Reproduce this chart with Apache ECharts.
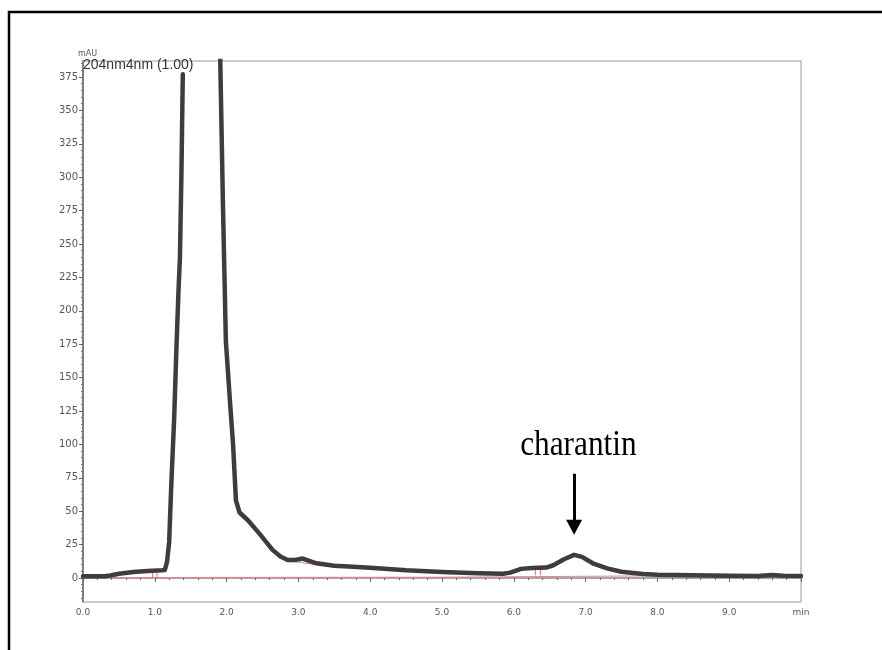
<!DOCTYPE html>
<html lang="en">

<head>
  <meta charset="UTF-8">
  <title>charantin HPLC</title>
  <style>
    html, body { margin: 0; padding: 0; background: #fff; }
    #main { width: 882px; height: 650px; }
  </style>
</head>

<body>
  <div id="main"></div>

  <script src="https://cdn.jsdelivr.net/npm/echarts@6/dist/echarts.min.js"></script>
  <script>
    // retention time (min) and signal (mAU); null = trace gap at top of the main peak
    var retentionTime = [0.0, 0.3, 0.38, 0.5, 0.7, 0.9, 1.1, 1.14, 1.17, 1.20, 1.23, 1.27, 1.30, 1.33, 1.35, 1.37, 1.39,
      1.65,
      1.91, 1.95, 1.99, 2.05, 2.09, 2.13, 2.18, 2.3, 2.46, 2.55, 2.64, 2.75, 2.85, 2.95, 3.06, 3.15, 3.25, 3.5,
      3.7, 4.0, 4.5, 5.0, 5.5, 5.85, 5.95, 6.1, 6.25, 6.45, 6.55, 6.7, 6.84, 6.95, 7.1, 7.3, 7.5, 7.8, 8.0,
      8.5, 9.0, 9.4, 9.6, 9.75, 10.0];
    var signal = [1.2, 1.2, 1.8, 3.2, 4.4, 5.2, 5.8, 6.0, 12, 27, 70, 120, 170, 215, 240, 300, 377,
      null,
      392, 277, 177, 130, 100, 58, 49, 43, 33, 27, 21, 16, 13.5, 13.5, 14.5, 12.8, 11, 9.2,
      8.6, 7.6, 5.7, 4.5, 3.6, 3.2, 4.0, 6.8, 7.5, 7.8, 9.5, 14, 17.3, 15.8, 11, 7.2, 4.6, 3.0, 2.4,
      2.0, 1.7, 1.5, 2.2, 1.6, 1.5];

    // integration baseline (red)
    var baselineTime = [0.35, 2.9, 5.0, 8.1];
    var baselineValue = [0.3, 0.5, 0.6, 1.6];
    var bumpBaseTime = [2.9, 3.25];
    var bumpBaseValue = [12.5, 10];

    // peak start/end marks
    var markTime = [0.97, 1.03, 6.30, 6.37];
    var markLow = [0.4, 0.4, 2.0, 2.0];
    var markHigh = [4.8, 4.8, 6.5, 6.5];

    // axis ticks
    var yMajorTicks = [0, 25, 50, 75, 100, 125, 150, 175, 200, 225, 250, 275, 300, 325, 350, 375];
    var yMinorTicks = [];
    for (var v = -15; v <= 385; v += 5) {
      if (v % 25 !== 0) yMinorTicks.push(v);
    }

    var peakName = 'charantin';
    var peakTime = 6.84;

    var traceData = retentionTime.map(function (t, i) {
      return signal[i] === null ? ['-', '-'] : [t, signal[i]];
    });
    var baseData = baselineTime.map(function (t, i) { return [t, baselineValue[i]]; });
    baseData.push(['-', '-']);
    bumpBaseTime.forEach(function (t, i) { baseData.push([t, bumpBaseValue[i]]); });
    var markData = [];
    markTime.forEach(function (t, i) {
      markData.push([t, markLow[i]], [t, markHigh[i]], ['-', '-']);
    });

    var myChart = echarts.init(document.getElementById('main'));

    var labelFont = { fontFamily: 'DejaVu Sans', color: '#555' };

    myChart.setOption({
      animation: false,
      title: {
        text: '204nm4nm (1.00)',
        left: 83,
        top: 58,
        padding: 0,
        textStyle: { fontFamily: 'Liberation Sans', fontSize: 14, fontWeight: 'normal', color: '#333' }
      },
      grid: {
        left: 83, right: 81, top: 61, bottom: 48,
        show: true, borderColor: '#999', borderWidth: 1, backgroundColor: 'transparent'
      },
      xAxis: {
        type: 'value',
        min: 0,
        max: 10,
        interval: 1,
        axisLine: { lineStyle: { color: '#888', width: 1.5 } },
        axisTick: { length: 4, lineStyle: { color: '#666' } },
        minorTick: { show: true, splitNumber: 5, length: 2, lineStyle: { color: '#666' } },
        splitLine: { show: false },
        axisLabel: Object.assign({
          fontSize: 9, margin: 6,
          formatter: function (val) { return val === 10 ? 'min' : val.toFixed(1); }
        }, labelFont)
      },
      yAxis: [{
        type: 'value',
        min: -18,
        max: 387,
        axisLine: { show: true, lineStyle: { color: '#666', width: 1.5 } },
        axisTick: { show: true, customValues: yMajorTicks, length: 4, lineStyle: { color: '#666' } },
        axisLabel: Object.assign({ fontSize: 10, margin: 5, customValues: yMajorTicks }, labelFont),
        splitLine: { show: false }
      }, {
        type: 'value',
        min: -18,
        max: 387,
        position: 'left',
        offset: 0,
        axisLine: { show: false },
        axisTick: { show: true, customValues: yMinorTicks, length: 2, lineStyle: { color: '#777' } },
        axisLabel: { show: false },
        splitLine: { show: false }
      }],
      graphic: [{
        id: 'unit',
        type: 'text',
        left: 78,
        top: 50,
        style: { text: 'mAU', font: '8px DejaVu Sans', fill: '#555' }
      }, {
        id: 'frame',
        type: 'rect',
        shape: { x: 9, y: 12, width: 1000, height: 800 },
        style: { fill: 'none', stroke: '#000', lineWidth: 2.5 },
        silent: true
      }],
      series: [{
        name: 'baseline',
        type: 'line',
        data: baseData,
        symbol: 'none',
        lineStyle: { color: '#e8868a', width: 1 },
        z: 1
      }, {
        name: 'marks',
        type: 'line',
        data: markData,
        symbol: 'none',
        lineStyle: { color: '#e07078', width: 1 },
        z: 1
      }, {
        name: '204nm4nm (1.00)',
        type: 'line',
        data: traceData,
        symbol: 'none',
        smooth: false,
        clip: true,
        lineStyle: { color: '#3d3d3d', width: 4.5, join: 'round', cap: 'round' },
        z: 3,
        markLine: {
          silent: true,
          symbol: ['none', 'triangle'],
          symbolSize: [16, 15],
          label: { show: false },
          lineStyle: { color: '#000', width: 3, type: 'solid' },
          data: [[{ coord: [peakTime, 78] }, { coord: [peakTime, 38] }]]
        }
      }]
    });

    // peak name above the arrow
    var pos = myChart.convertToPixel({ xAxisIndex: 0, yAxisIndex: 0 }, [6.9, 99]);
    myChart.setOption({
      graphic: [{
        id: 'peakName',
        type: 'text',
        x: pos[0],
        y: pos[1],
        scaleX: 0.87,
        style: {
          text: peakName,
          font: '36px Liberation Serif',
          fill: '#000',
          textAlign: 'center',
          textVerticalAlign: 'middle',
          align: 'center',
          verticalAlign: 'middle'
        }
      }]
    });
  </script>
</body>

</html>
